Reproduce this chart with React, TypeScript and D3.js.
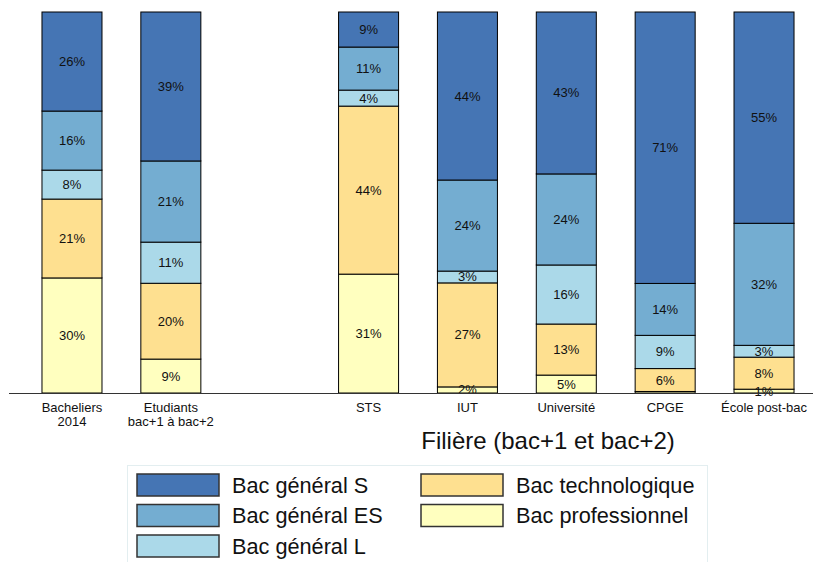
import React from "react";
import * as d3 from "d3";

const categories = ["Bacheliers\n2014", "Etudiants\nbac+1 à bac+2", "", "STS", "IUT", "Université", "CPGE", "École post-bac"];
const seriesNames = ["Bac professionnel", "Bac technologique", "Bac général L", "Bac général ES", "Bac général S"];
const seriesColors = ["#ffffbf", "#fee090", "#abd9e9", "#74add1", "#4575b4"];
// values per category (percent), order: pro, techno, L, ES, S
const proValues = [30.2, 8.9, 0, 31.2, 1.6, 4.7, 0.4, 1.0];
const technoValues = [20.7, 19.9, 0, 44.1, 27.3, 13.4, 6.0, 8.4];
const lValues = [7.6, 10.8, 0, 4.2, 3.1, 15.5, 8.7, 3.1];
const esValues = [15.5, 21.3, 0, 11.3, 23.9, 23.9, 13.6, 32.0];
const sValues = [26.0, 39.1, 0, 9.2, 44.1, 42.5, 71.1, 55.4];
const axisTitle = "Filière (bac+1 et bac+2)";
const legendOrder = [4, 1, 3, 0, 2];

const W = 815, H = 562;
const FONT = "'Liberation Sans', Arial, sans-serif";

export default function App() {
  const series = [proValues, technoValues, lValues, esValues, sValues];
  const x = d3.scaleBand<number>().domain(d3.range(categories.length)).range([22.6, 813.4]).paddingInner(0.393).paddingOuter(0.196);
  const y = d3.scaleLinear().domain([0, 100]).range([393, 12]);

  const bars: React.ReactNode[] = [];
  const labels: React.ReactNode[] = [];
  categories.forEach((c, i) => {
    if (!c) return;
    const total = d3.sum(series, (s) => s[i]);
    let cum = 0;
    series.forEach((s, k) => {
      const v = (s[i] / total) * 100;
      const y0 = y(cum), y1 = y(cum + v);
      cum += v;
      bars.push(
        <rect key={`b${i}-${k}`} x={x(i)} y={y1} width={x.bandwidth()} height={y0 - y1}
          fill={seriesColors[k]} stroke="#000" strokeWidth={1} />
      );
      if (Math.round(s[i]) >= 1) {
        labels.push(
          <text key={`l${i}-${k}`} x={(x(i) as number) + x.bandwidth() / 2} y={(y0 + y1) / 2 + 4.5}
            textAnchor="middle" fontSize={13} fill="#111">{Math.round(s[i])}%</text>
        );
      }
    });
  });

  const legendRows = [474, 504.5, 535];
  const legendCols = [137, 421];

  return (
    <svg width={W} height={H} style={{ position: "absolute", left: 0, top: 0, fontFamily: FONT }}>
      <rect x={0} y={0} width={W} height={H} fill="#fff" />
      {bars}
      {labels}
      <line x1={9} x2={813} y1={393.5} y2={393.5} stroke="#333" strokeWidth={1.2} />
      {categories.map((c, i) => {
        if (!c) return null;
        const lines = c.split("\n");
        return (
          <text key={`t${i}`} x={(x(i) as number) + x.bandwidth() / 2} y={412} textAnchor="middle" fontSize={13} fill="#111">
            {lines.map((ln, j) => (
              <tspan key={j} x={(x(i) as number) + x.bandwidth() / 2} dy={j === 0 ? 0 : 14}>{ln}</tspan>
            ))}
          </text>
        );
      })}
      <text x={548} y={449} textAnchor="middle" fontSize={24} fill="#111">{axisTitle}</text>
      <rect x={127.5} y={465.5} width={580} height={110} fill="#fff" stroke="#e3eef0" strokeWidth={1} />
      {legendOrder.map((k, idx) => {
        const col = idx % 2;
        const row = Math.floor(idx / 2);
        const lx = legendCols[col];
        const ly = legendRows[row];
        return (
          <g key={`lg${k}`}>
            <rect x={lx} y={ly} width={82} height={22} fill={seriesColors[k]} stroke="#333" strokeWidth={1.5} />
            <text x={lx + 95} y={ly + 18.5} fontSize={21.7} fill="#111">{seriesNames[k]}</text>
          </g>
        );
      })}
    </svg>
  );
}
